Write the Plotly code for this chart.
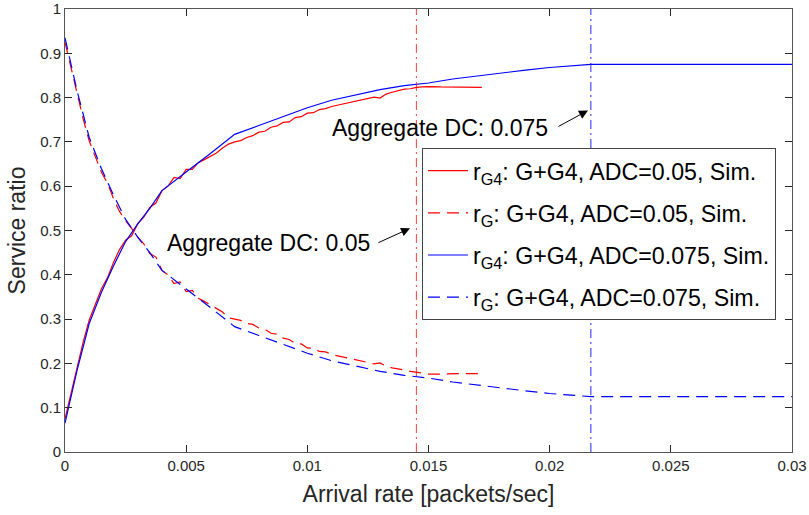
import plotly.graph_objects as go

# ---- data ----
red_x = [0, 0.00025, 0.0005, 0.00075, 0.001, 0.00125, 0.0015, 0.00175, 0.002, 0.00225,
         0.0025, 0.00275, 0.003, 0.00325, 0.0035, 0.00375, 0.004, 0.00425, 0.0045, 0.00475,
         0.005, 0.00525, 0.0055, 0.00575, 0.006, 0.00625, 0.0065, 0.00675, 0.007, 0.00725,
         0.0075, 0.00775, 0.008, 0.00825, 0.0085, 0.00875, 0.009, 0.00925, 0.0095, 0.00975,
         0.01, 0.01025, 0.0105, 0.01075, 0.011, 0.01125, 0.0115, 0.01175, 0.012, 0.01225,
         0.0125, 0.01275, 0.013, 0.01325, 0.0135, 0.01375, 0.014, 0.01425, 0.0145, 0.01475,
         0.015, 0.0155, 0.016, 0.0165, 0.017, 0.0172]
red_rG4 = [0.075, 0.135, 0.195, 0.248, 0.298, 0.333, 0.368, 0.393, 0.428, 0.457,
           0.478, 0.488, 0.515, 0.53, 0.552, 0.562, 0.59, 0.6, 0.62, 0.617,
           0.638, 0.638, 0.653, 0.66, 0.668, 0.675, 0.686, 0.695, 0.7, 0.703,
           0.71, 0.714, 0.722, 0.724, 0.733, 0.736, 0.744, 0.745, 0.755, 0.757,
           0.765, 0.766, 0.773, 0.775, 0.78, 0.783, 0.787, 0.789, 0.792, 0.796,
           0.798, 0.801, 0.799, 0.808, 0.812, 0.815, 0.819, 0.82, 0.823, 0.824,
           0.825, 0.824, 0.824, 0.823, 0.823, 0.823]
red_rG = [0.925, 0.865, 0.805, 0.752, 0.702, 0.667, 0.632, 0.607, 0.572, 0.543,
          0.522, 0.505, 0.485, 0.47, 0.448, 0.44, 0.41, 0.4, 0.38, 0.384,
          0.362, 0.365, 0.347, 0.34, 0.332, 0.323, 0.316, 0.303, 0.3, 0.297,
          0.29, 0.288, 0.28, 0.277, 0.268, 0.266, 0.257, 0.254, 0.245, 0.244,
          0.235, 0.234, 0.227, 0.226, 0.22, 0.217, 0.213, 0.21, 0.208, 0.204,
          0.202, 0.199, 0.201, 0.194, 0.19, 0.188, 0.185, 0.182, 0.18, 0.177,
          0.176, 0.176, 0.177, 0.177, 0.177, 0.177]

blue_x = [0, 0.0005, 0.001, 0.0015, 0.002, 0.0025, 0.003, 0.0035, 0.004, 0.0045,
          0.005, 0.006, 0.007, 0.008, 0.009, 0.01, 0.011, 0.012, 0.013, 0.014,
          0.015, 0.016, 0.017, 0.018, 0.019, 0.02, 0.021, 0.0217, 0.03]
blue_rG4 = [0.065, 0.185, 0.29, 0.36, 0.42, 0.475, 0.515, 0.55, 0.59, 0.612,
            0.632, 0.674, 0.717, 0.737, 0.757, 0.777, 0.794, 0.806, 0.818, 0.827,
            0.833, 0.842, 0.849, 0.856, 0.862, 0.868, 0.873, 0.875, 0.875]
blue_rG = [0.935, 0.815, 0.71, 0.64, 0.58, 0.525, 0.485, 0.45, 0.41, 0.388,
           0.368, 0.326, 0.283, 0.263, 0.243, 0.223, 0.206, 0.194, 0.182, 0.173,
           0.167, 0.158, 0.151, 0.144, 0.138, 0.132, 0.127, 0.125, 0.125]

vline_red_x = 0.0145
vline_blue_x = 0.0217
y_span = [0, 1]

legend_names = ["r<sub>G4</sub>: G+G4, ADC=0.05, Sim.",
                "r<sub>G</sub>: G+G4, ADC=0.05, Sim.",
                "r<sub>G4</sub>: G+G4, ADC=0.075, Sim.",
                "r<sub>G</sub>: G+G4, ADC=0.075, Sim."]

x_ticks = [0, 0.005, 0.01, 0.015, 0.02, 0.025, 0.03]
x_tick_text = ["0", "0.005", "0.01", "0.015", "0.02", "0.025", "0.03"]
y_ticks = [0, 0.1, 0.2, 0.3, 0.4, 0.5, 0.6, 0.7, 0.8, 0.9, 1]
y_tick_text = ["0", "0.1", "0.2", "0.3", "0.4", "0.5", "0.6", "0.7", "0.8", "0.9", "1"]

ann_texts = ["Aggregate DC: 0.05", "Aggregate DC: 0.075"]

RED = "#ff0000"
BLUE = "#0000ff"
FONT = "Liberation Sans, Arial, sans-serif"

fig = go.Figure()
fig.add_trace(go.Scatter(x=red_x, y=red_rG4, mode="lines", name=legend_names[0],
                         legendgroup="a", line=dict(color=RED, width=1.2)))
fig.add_trace(go.Scatter(x=red_x, y=red_rG, mode="lines", name=legend_names[1],
                         legendgroup="b", line=dict(color=RED, width=1.2, dash="12px,7px")))
fig.add_trace(go.Scatter(x=blue_x, y=blue_rG4, mode="lines", name=legend_names[2],
                         legendgroup="c", line=dict(color=BLUE, width=1.2)))
fig.add_trace(go.Scatter(x=blue_x, y=blue_rG, mode="lines", name=legend_names[3],
                         legendgroup="d", line=dict(color=BLUE, width=1.2, dash="12px,7px")))

fig.add_trace(go.Scatter(x=[vline_red_x, vline_red_x], y=y_span, mode="lines", showlegend=False,
                         line=dict(color=RED, width=1, dash="9px,4px,2px,4px"), opacity=0.75))
fig.add_trace(go.Scatter(x=[vline_blue_x, vline_blue_x], y=y_span, mode="lines", showlegend=False,
                         line=dict(color=BLUE, width=1, dash="9px,4px,2px,4px"), opacity=0.85))

# annotation texts
fig.add_annotation(x=0.01267, y=0.471, text=ann_texts[0], showarrow=False, xanchor="right",
                   yanchor="middle", font=dict(family=FONT, size=23, color="black"))
fig.add_annotation(x=0.02001, y=0.731, text=ann_texts[1], showarrow=False, xanchor="right",
                   yanchor="middle", font=dict(family=FONT, size=23, color="black"))
# arrows
fig.add_annotation(x=0.01424, y=0.505, ax=0.01287, ay=0.471, axref="x", ayref="y",
                   xref="x", yref="y", text="", showarrow=True, arrowhead=2,
                   arrowsize=1.8, arrowwidth=1, arrowcolor="black")
fig.add_annotation(x=0.02158, y=0.771, ax=0.0203, ay=0.733, axref="x", ayref="y",
                   xref="x", yref="y", text="", showarrow=True, arrowhead=2,
                   arrowsize=1.8, arrowwidth=1, arrowcolor="black")

axis_common = dict(showgrid=False, zeroline=False, showline=True, linecolor="#555555",
                   linewidth=1, mirror="ticks", ticks="inside", ticklen=7,
                   tickcolor="#262626", tickfont=dict(family=FONT, size=15, color="#262626"))

fig.update_xaxes(range=[0, 0.03], tickvals=x_ticks, ticktext=x_tick_text,
                 title=dict(text="Arrival rate [packets/sec]", standoff=12,
                            font=dict(family=FONT, size=23, color="#262626")),
                 **axis_common)
fig.update_yaxes(range=[0, 1], tickvals=y_ticks, ticktext=y_tick_text,
                 title=dict(text="Service ratio", standoff=8,
                            font=dict(family=FONT, size=23, color="#262626")),
                 **axis_common)

fig.update_layout(
    width=809, height=515,
    margin=dict(l=65, r=17, t=9, b=63, autoexpand=False),
    paper_bgcolor="white", plot_bgcolor="white",
    showlegend=True,
    legend=dict(x=0.491, y=0.686, xanchor="left", yanchor="top",
                bgcolor="white", bordercolor="#444444", borderwidth=1,
                font=dict(family=FONT, size=23.2, color="black"),
                tracegroupgap=9, itemwidth=40),
    font=dict(family=FONT),
)

fig.write_html("out.html", config={"displayModeBar": False},
               post_script="document.body.style.margin='0';")
